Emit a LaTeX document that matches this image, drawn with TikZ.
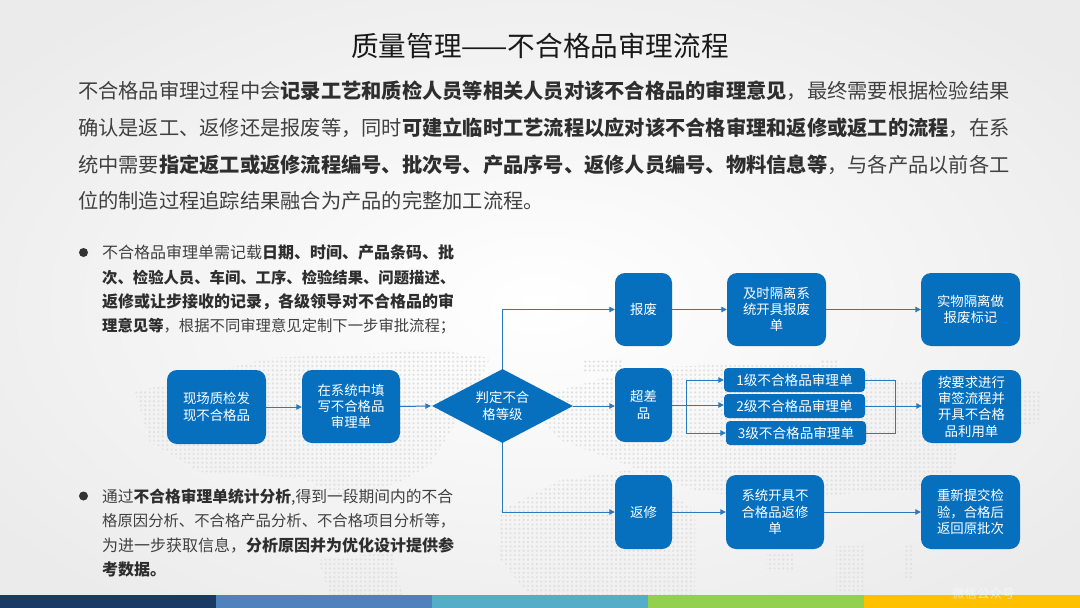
\documentclass[tikz,border=0pt]{standalone}
\usepackage{fontspec}
\setmainfont{Noto Sans CJK SC}
\usetikzlibrary{arrows.meta,shapes.geometric,patterns.meta,calc}
\definecolor{boxblue}{HTML}{0670BF}
\definecolor{linkblue}{HTML}{2A78BE}
\definecolor{bodygray}{HTML}{404040}
\definecolor{dotgray}{HTML}{E0E0E0}
\definecolor{bandA}{HTML}{1A3A66}
\definecolor{bandB}{HTML}{4F81BD}
\definecolor{bandC}{HTML}{54AEC8}
\definecolor{bandD}{HTML}{92D050}
\definecolor{bandE}{HTML}{FFC000}
\newcommand{\B}[1]{{\bfseries\color{black!82}#1}}
\newcommand{\tight}[1]{{\fontsize{15.35}{24.3}\selectfont #1}}
\tikzset{
  x=1pt,y=-1pt,
  flowbox/.style={fill=boxblue,text=white,rounded corners=10pt,inner sep=0pt,
    font=\fontsize{13.4}{16.3}\selectfont,align=center},
  smallbox/.style={fill=boxblue,text=white,rounded corners=4pt,inner sep=0pt,
    font=\fontsize{13.6}{16.3}\selectfont,align=center},
  link/.style={draw=linkblue,line width=1pt,-{Triangle[length=5.5pt,width=5.5pt]}},
  plain link/.style={draw=linkblue,line width=1pt},
  bodytext/.style={text=bodygray,inner sep=0pt,anchor=west,align=left,
    font=\fontsize{20.25}{36.7}\selectfont},
  bullettext/.style={text=bodygray,inner sep=0pt,anchor=west,align=left,
    font=\fontsize{16}{24.3}\selectfont},
  bulletdot/.style={circle,fill=black!80,minimum size=9pt,inner sep=0pt},
  band/.style={inner sep=0pt,minimum height=13pt,anchor=north west,minimum width=216.5pt},
}
\newcommand{\boxat}[6][flowbox]{%
  \node[#1,minimum width=#5pt-#3pt,minimum height=#6pt-#4pt] (#2) at ({(#3+#5)/2},{(#4+#6)/2})}
\begin{document}
\begin{tikzpicture}
\useasboundingbox (0,0) rectangle (1080,608);
% background
\shade[inner color=white,outer color=black!8] (-150,-90) rectangle (1230,698);
% world map (dotted)
\fill[pattern={Dots[radius=1.2pt,distance=4.4pt]},pattern color=dotgray]
  (135,392)--(200,375)--(270,358)--(440,350)--(490,358)--(470,400)--(430,465)--(400,482)--(345,498)--(300,478)--(200,472)--(150,442)--cycle
  (318,560)--(392,552)--(402,595)--(330,595)--cycle
  (498,512)--(560,480)--(630,470)--(695,510)--(695,595)--(530,595)--(500,560)--cycle
  (525,400)--(640,368)--(790,362)--(900,380)--(1000,385)--(1040,392)--(1040,422)--(960,440)--(950,488)--(860,492)--(800,500)--(700,492)--(640,470)--(560,440)--cycle
  (766,553)--(793,553)--(793,572)--(766,572)--cycle
  (836,546)--(866,546)--(866,594)--(836,594)--cycle
  (903,543)--(914,543)--(914,578)--(903,578)--cycle
  (583,360)--(623,360)--(623,372)--(583,372)--cycle
  (820,358)--(838,358)--(838,368)--(820,368)--cycle;
% bottom bands
\node[band,fill=bandA] (b1) at (0,595) {};
\node[band,fill=bandB] (b2) at (216,595) {};
\node[band,fill=bandC] (b3) at (432,595) {};
\node[band,fill=bandD] (b4) at (648,595) {};
\node[band,fill=bandE,minimum width=216pt] (b5) at (864,595) {};
% title and text
\node[inner sep=0pt,text=black!90,font=\fontsize{27.6}{30}\selectfont] (title) at (540,46) {质量管理——不合格品审理流程};
\node[bodytext] (intro) at (78,146) {不合格品审理过程中会\B{记录工艺和质检人员等相关人员对该不合格品的审理意见}，最终需要根据检验结果\\
确认是返工、返修还是报废等，同时\B{可建立临时工艺流程以应对该不合格审理和返修或返工的流程}，在系\\
统中需要\B{指定返工或返修流程编号、批次号、产品序号、返修人员编号、物料信息等}，与各产品以前各工\\
位的制造过程追踪结果融合为产品的完整加工流程。};
\node[bulletdot] (d1) at (83.5,252.5) {};
\node[bullettext] (p1) at (102,289.5) {不合格品审理单需记载\B{日期、时间、产品条码、批}\\
\tight{\B{次、检验人员、车间、工序、检验结果、问题描述、}}\\
\B{返修或让步接收的记录，各级领导对不合格品的审}\\
\tight{\B{理意见等}，根据不同审理意见定制下一步审批流程；}};
\node[bulletdot] (d2) at (83.5,496) {};
\node[bullettext] (p2) at (102,533) {{\fontsize{15.75}{24.3}\selectfont 通过\B{不合格审理单统计分析},得到一段期间内的不合}\\
\tight{格原因分析、不合格产品分析、不合格项目分析等，}\\
为进一步获取信息，\B{分析原因并为优化设计提供参}\\
\B{考数据。}};
% flow boxes
\boxat{a1}{167}{370}{266}{444} {现场质检发\\现不合格品};
\boxat{a2}{302}{370}{400}{443} {在系统中填\\写不合格品\\审理单};
\node[diamond,fill=boxblue,text=white,inner sep=0pt,aspect=1.91,minimum width=141pt,minimum height=74pt,
  font=\fontsize{13.4}{16.3}\selectfont,align=center] (dec) at (502.5,406) {};
\node[text=white,inner sep=0pt,font=\fontsize{13.4}{16.3}\selectfont,align=center] (dect) at (dec.center) {判定不合\\格等级};
\boxat{s1}{615}{273}{672}{346} {报废};
\boxat{s2}{727}{273}{826}{346} {及时隔离系\\统开具报废\\单};
\boxat{s3}{921}{273}{1020}{346} {实物隔离做\\报废标记};
\boxat{c1}{615}{368}{672}{442} {超差\\品};
\boxat[smallbox]{l1}{724}{368}{865}{392} {1级不合格品审理单};
\boxat[smallbox]{l2}{724}{394}{865}{418} {2级不合格品审理单};
\boxat[smallbox]{l3}{726}{421}{866}{445} {3级不合格品审理单};
\boxat{c3}{922}{370}{1021}{443} {按要求进行\\审签流程并\\开具不合格\\品利用单};
\boxat{r1}{615}{475}{672}{549} {返修};
\boxat{r2}{726}{475}{824}{549} {系统开具不\\合格品返修\\单};
\boxat{r3}{921}{475}{1020}{549} {重新提交检\\验，合格后\\返回原批次};
% connectors
\draw[link] (a1.east) -- (a1.east -| a2.west);
\draw[link] (a2.east) -- ($(dec.west)+(-1,0)$);
\draw[link] (dec.east) -- (dec.east -| c1.west);
\draw[link] (dec.north) |- (s1.west);
\draw[link] (dec.south) |- (r1.west);
\draw[link] (s1.east) -- (s2.west);
\draw[link] (s2.east) -- (s3.west);
\draw[link] (r1.east) -- (r2.west);
\draw[link] (r2.east) -- (r3.west);
\coordinate (split) at (686.5,405);
\coordinate (merge) at (895,406);
\draw[plain link] (c1.east) -- (split);
\draw[link] (split) -- (split -| l2.west);
\draw[link] (split) |- (l1.west);
\draw[link] (split) |- (l3.west);
\draw[plain link] (l1.east) -| (merge);
\draw[plain link] (l3.east) -| (merge);
\draw[plain link] (l2.east) -- (merge);
\draw[link] (merge) -- (merge -| c3.west);
% watermark
\node[inner sep=0pt,anchor=west,text=white,opacity=.55,font=\fontsize{12.5}{15}\selectfont] (wm) at (952,594) {微信公众号};
\end{tikzpicture}
\end{document}
